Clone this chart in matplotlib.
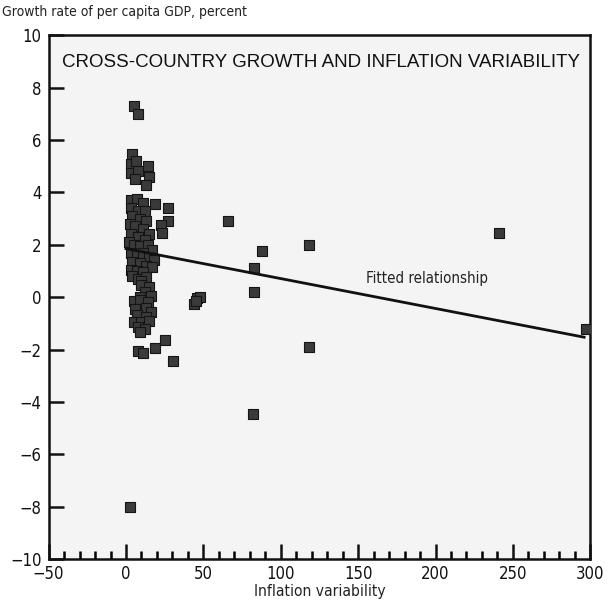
import numpy as np
import matplotlib
matplotlib.use('Agg')
import matplotlib.pyplot as plt
from matplotlib.ticker import MultipleLocator

plt.rcParams['font.family'] = ['DejaVu Sans']
plt.rcParams['font.stretch'] = 'condensed'

# inflation variability (x) and per capita GDP growth (y)
infl_var = [
    5, 8,
    4, 3.5, 3, 6.5, 7.5, 5.5, 14, 15, 13,
    19, 27, 27, 22.5, 23,
    3, 7, 11, 3, 8, 12, 4, 9, 13, 2.5, 6, 11, 15, 3, 8, 12, 2, 5, 9, 14, 17,
    3, 7, 11, 15, 18, 4, 9, 13, 17, 3, 7, 11,
    4, 8, 13, 10,
    10, 15, 12, 16, 9,
    5, 9, 14, 6, 13, 16, 7, 13, 5, 10, 15, 8, 12,
    9, 8, 11, 19, 25, 30.5,
    2.8,
    46, 48, 44, 45,
    66, 88, 83, 82.5, 118, 241, 118, 82, 297,
]
gdp_growth = [
    7.3, 7.0,
    5.45, 5.1, 4.75, 5.2, 4.8, 4.5, 5.0, 4.6, 4.3,
    3.55, 3.4, 2.9, 2.75, 2.45,
    3.7, 3.75, 3.6, 3.4, 3.3, 3.3, 3.1, 3.0, 2.9, 2.8, 2.7, 2.6, 2.4, 2.4, 2.3, 2.2, 2.1, 2.0, 1.95, 2.0, 1.8,
    1.7, 1.6, 1.7, 1.5, 1.4, 1.35, 1.3, 1.2, 1.15, 1.05, 1.0, 0.95,
    0.8, 0.7, 0.75, 0.6,
    0.45, 0.4, 0.2, 0.05, 0.0,
    -0.15, -0.1, -0.2, -0.45, -0.4, -0.55, -0.7, -0.75, -0.95, -0.95, -0.9, -1.15, -1.2,
    -1.35, -2.05, -2.15, -1.93, -1.65, -2.45,
    -8.0,
    -0.05, 0.0, -0.25, -0.15,
    2.9, 1.75, 1.1, 0.2, 2.0, 2.45, -1.9, -4.45, -1.2,
]

# fitted relationship end points
fit_x = [0, 296]
fit_y = [1.85, -1.53]

fig = plt.figure(figsize=(6.1, 6.07), dpi=100)
ax = fig.add_axes([0.0797, 0.079, 0.888, 0.863])
ax.set_facecolor('#f4f4f4')

ax.scatter(infl_var, gdp_growth, marker='s', s=56, c='#3a3a3a',
           edgecolors='#151515', linewidths=0.8, zorder=3)
ax.plot(fit_x, fit_y, color='#111111', lw=2.0, zorder=4)
ax.text(155, 0.7, 'Fitted relationship', fontsize=10.8, va='center', ha='left',
        color='#222222')

ax.set_xlim(-50, 300)
ax.set_ylim(-10, 10)
ax.xaxis.set_major_locator(MultipleLocator(50))
ax.xaxis.set_minor_locator(MultipleLocator(10))
ax.yaxis.set_major_locator(MultipleLocator(2))

ax.tick_params(axis='both', which='major', direction='in', length=11, width=1.8,
               labelsize=12, colors='#111111')
ax.tick_params(axis='x', which='minor', direction='in', length=5.5, width=1.8)
ax.tick_params(axis='x', which='major', pad=4)
ax.tick_params(axis='y', which='major', pad=5)
ax.set_xticklabels([f'{int(v)}'.replace('-', '\u2212') for v in ax.get_xticks()])
ax.set_yticklabels([f'{int(v)}'.replace('-', '\u2212') for v in ax.get_yticks()])
ax.get_yticklabels()[0].set_va('bottom')

for s in ax.spines.values():
    s.set_linewidth(1.8)
    s.set_color('#111111')

ax.text(0.024, 0.965, 'CROSS-COUNTRY GROWTH AND INFLATION VARIABILITY',
        transform=ax.transAxes, fontsize=13.5, family=['Liberation Sans', 'DejaVu Sans'],
        fontstretch='normal', ha='left', va='top', color='#111111')

fig.text(0.003, 0.98, 'Growth rate of per capita GDP, percent', fontsize=10,
         ha='left', va='center', color='#222222')
ax.set_xlabel('Inflation variability', fontsize=11.2, color='#222222', labelpad=1)

fig.savefig('out.png', dpi=100)
